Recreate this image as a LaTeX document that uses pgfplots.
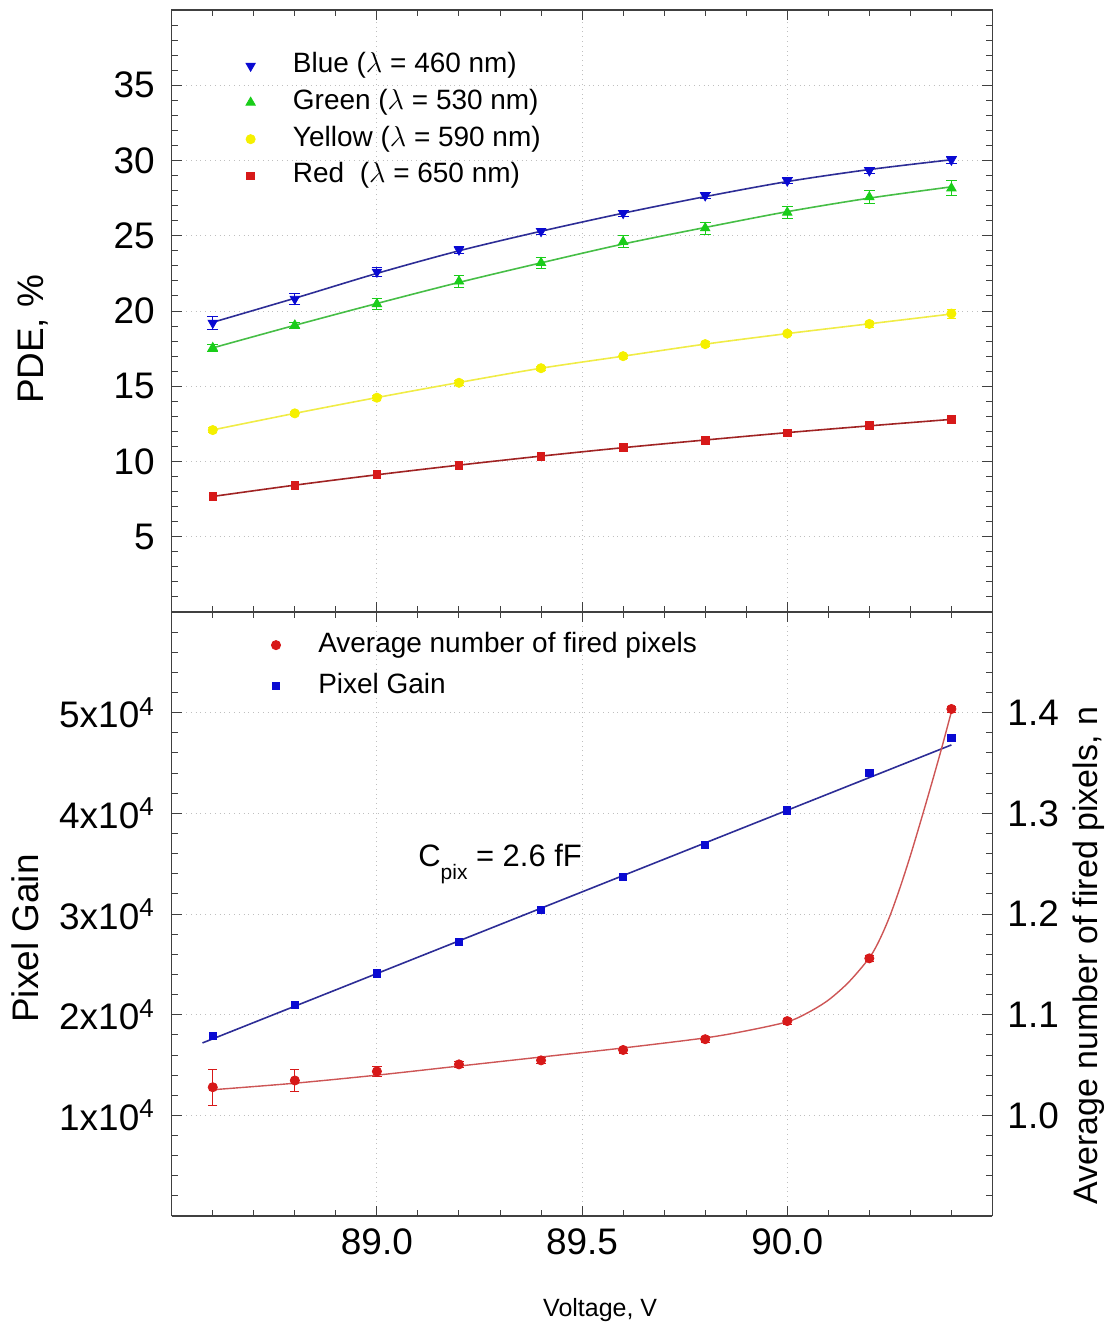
\documentclass[border=0pt]{standalone}
\usepackage{pgfplots}
\pgfplotsset{compat=1.18}
\usepackage{fontspec}
\setmainfont{Liberation Sans}
\definecolor{mblue}{RGB}{10,10,210}
\definecolor{lblue}{RGB}{45,45,150}
\definecolor{mgreen}{RGB}{25,205,25}
\definecolor{lgreen}{RGB}{70,190,70}
\definecolor{myellow}{RGB}{245,240,0}
\definecolor{lyellow}{RGB}{240,236,70}
\definecolor{mred}{RGB}{215,25,25}
\definecolor{lred}{RGB}{160,35,35}
\definecolor{cred}{RGB}{205,85,85}
\pgfplotsset{
 base/.style={
  scale only axis, width=411pt,
  xmin=88.5, xmax=90.5,
  axis line style={black!75, line width=0.7pt},
  tick style={black!75, line width=0.5pt},
  major tick length=5pt, minor tick length=3pt,
  tick align=inside,
  /pgf/number format/assume math mode=true,
  tick label style={font=\fontsize{18.5}{20}\selectfont},
  label style={font=\fontsize{18.5}{20}\selectfont},
  grid style={dotted, gray!50, line width=0.5pt},
  xtick={89,89.5,90},
  minor xtick={88.5,88.6,88.7,88.8,88.9,89.0,89.1,89.2,89.3,89.4,89.5,89.6,89.7,89.8,89.9,90.0,90.1,90.2,90.3,90.4,90.5},
  legend cell align=left,
  legend image code/.code={\path (0pt,0pt) (25pt,0pt); \draw[##1] plot coordinates {(5pt,0pt)};},
  legend style={draw=none, fill=none, inner sep=0pt, outer sep=0pt,
    font=\fontsize{14}{16}\selectfont,
    nodes={inner sep=1pt, text height=10pt, text depth=3pt}},
  error bars/error bar style={line width=0.5pt},
 },
}
\begin{document}
\begin{tikzpicture}
% ---------------- top axis ----------------
\begin{axis}[base, name=top, at={(0,0)}, anchor=south west, height=301.5pt,
  ymin=0, ymax=40, ytick={5,10,15,20,25,30,35}, minor ytick={0,1,...,40},
  xticklabels={},
  xmajorgrids, ymajorgrids,
  ylabel={PDE, \%},
  ylabel style={at={(axis description cs:-0.1691,0.453)}, anchor=center},
  yticklabel style={xshift=-5pt},
  legend style={at={(axis description cs:0.0835,0.932)}, anchor=north west, row sep=3.35pt},
]
\addplot[only marks, mark=triangle*, mark size=2.7pt, mark options={rotate=180, fill=mblue, draw=mblue}, mblue,
  error bars/.cd, y dir=both, y explicit, error bar style={mblue}]
 coordinates {(88.6,19.21) +- (0,0.46) (88.8,20.80) +- (0,0.35) (89.0,22.60) +- (0,0.3) (89.2,24.07) +- (0,0.25)
 (89.4,25.30) +- (0,0.2) (89.6,26.50) +- (0,0.2) (89.8,27.67) +- (0,0.2) (90.0,28.65) +- (0,0.2)
 (90.2,29.33) +- (0,0.2) (90.4,30.04) +- (0,0.2)};
\addlegendentry{Blue ($\lambda$ = 460 nm)}
\addplot[only marks, mark=triangle*, mark size=2.7pt, mark options={fill=mgreen, draw=mgreen}, mgreen,
  error bars/.cd, y dir=both, y explicit, error bar style={mgreen}]
 coordinates {(88.6,17.55) +- (0,0.25) (88.8,19.05) +- (0,0.2) (89.0,20.47) +- (0,0.35) (89.2,21.97) +- (0,0.4)
 (89.4,23.20) +- (0,0.35) (89.6,24.60) +- (0,0.4) (89.8,25.51) +- (0,0.4) (90.0,26.55) +- (0,0.4)
 (90.2,27.57) +- (0,0.45) (90.4,28.16) +- (0,0.5)};
\addlegendentry{Green ($\lambda$ = 530 nm)}
\addplot[only marks, mark=*, mark size=2.3pt, mark options={fill=myellow, draw=myellow}, myellow,
  error bars/.cd, y dir=both, y explicit, error bar style={myellow}]
 coordinates {(88.6,12.09) +- (0,0.15) (88.8,13.20) +- (0,0.15) (89.0,14.24) +- (0,0.15) (89.2,15.23) +- (0,0.15)
 (89.4,16.20) +- (0,0.15) (89.6,17.00) +- (0,0.15) (89.8,17.80) +- (0,0.15) (90.0,18.50) +- (0,0.15)
 (90.2,19.14) +- (0,0.2) (90.4,19.83) +- (0,0.3)};
\addlegendentry{Yellow ($\lambda$ = 590 nm)}
\addplot[only marks, mark=square*, mark size=1.9pt, mark options={fill=mred, draw=mred}, mred,
  error bars/.cd, y dir=both, y explicit, error bar style={mred}]
 coordinates {(88.6,7.67) +- (0,0.1) (88.8,8.42) +- (0,0.1) (89.0,9.15) +- (0,0.1) (89.2,9.75) +- (0,0.1)
 (89.4,10.35) +- (0,0.1) (89.6,10.95) +- (0,0.1) (89.8,11.40) +- (0,0.1) (90.0,11.90) +- (0,0.1)
 (90.2,12.40) +- (0,0.1) (90.4,12.80) +- (0,0.1)};
\addlegendentry{Red\ \ ($\lambda$ = 650 nm)}
% fit lines
\addplot[lblue, line width=0.8pt, smooth, forget plot] coordinates {(88.6,19.25) (88.8,20.85) (89.0,22.5) (89.2,24.0) (89.4,25.3) (89.6,26.5) (89.8,27.6) (90.0,28.6) (90.2,29.4) (90.4,30.05)};
\addplot[lgreen, line width=0.8pt, smooth, forget plot] coordinates {(88.6,17.55) (88.8,19.05) (89.0,20.5) (89.2,21.9) (89.4,23.2) (89.6,24.45) (89.8,25.55) (90.0,26.6) (90.2,27.5) (90.4,28.25)};
\addplot[lyellow, line width=0.8pt, smooth, forget plot] coordinates {(88.6,12.1) (88.8,13.2) (89.0,14.25) (89.2,15.25) (89.4,16.2) (89.6,17.0) (89.8,17.8) (90.0,18.5) (90.2,19.15) (90.4,19.8)};
\addplot[lred, line width=0.8pt, smooth, forget plot] coordinates {(88.6,7.68) (88.8,8.43) (89.0,9.12) (89.2,9.76) (89.4,10.36) (89.6,10.92) (89.8,11.43) (90.0,11.92) (90.2,12.37) (90.4,12.8)};
\end{axis}
% ---------------- bottom axis (left) ----------------
\begin{axis}[base, name=bot, at={(top.south west)}, anchor=north west, height=302.5pt,
  axis y line*=left,
  ymin=0, ymax=60000, ytick={10000,20000,30000,40000,50000},
  yticklabels={1x10\textsuperscript{4},2x10\textsuperscript{4},3x10\textsuperscript{4},4x10\textsuperscript{4},5x10\textsuperscript{4}},
  minor ytick={0,2000,...,60000}, scaled y ticks=false,
  xticklabel style={yshift=-3pt, /pgf/number format/.cd, fixed, fixed zerofill, precision=1},
  yticklabel style={xshift=-5pt},
  xmajorgrids, ymajorgrids,
  ylabel={Pixel Gain},
  ylabel style={at={(axis description cs:-0.1788,0.4595)}, anchor=center},
  xlabel={Voltage, V},
  xlabel style={at={(axis description cs:0.522,-0.155)}, anchor=center, font=\fontsize{12.5}{14}\selectfont},
]
\addplot[only marks, mark=square*, mark size=1.8pt, mark options={fill=mblue, draw=mblue}, mblue]
 coordinates {(88.6,17890) (88.8,21000) (89.0,24100) (89.2,27200) (89.4,30400) (89.6,33700) (89.8,36860) (90.0,40300) (90.2,44000) (90.4,47500)};
\addplot[lblue, line width=0.8pt] coordinates {(88.575,17200) (90.4,46800)};
\node[anchor=base west, font=\fontsize{15.5}{17}\selectfont, inner sep=0pt] at (axis cs:89.1,34700) {C\raisebox{-0.75ex}{\fontsize{10.5}{12}\selectfont pix} = 2.6 fF};
\end{axis}
% ---------------- bottom axis (right) ----------------
\begin{axis}[base, at={(top.south west)}, anchor=north west, height=302.5pt,
  axis y line*=right, axis x line=none,
  ymin=0.9, ymax=1.5, ytick={1.0,1.1,1.2,1.3,1.4},
  minor ytick={0.9,0.92,...,1.5},
  yticklabel style={xshift=4pt, /pgf/number format/.cd, fixed, fixed zerofill, precision=1},
  ylabel={Average number of fired pixels, n},
  ylabel style={at={(axis description cs:1.1168,0.431)}, anchor=center, font=\fontsize{17}{19}\selectfont},
  legend style={at={(axis description cs:0.1144,0.970)}, anchor=north west, row sep=5.5pt},
]
\addplot[only marks, mark=*, mark size=2.3pt, mark options={fill=mred, draw=mred}, mred,
  error bars/.cd, y dir=both, y explicit, error bar style={mred}]
 coordinates {(88.6,1.028) +- (0,0.018) (88.8,1.0347) +- (0,0.011) (89.0,1.0437) +- (0,0.005) (89.2,1.0507) +- (0,0.003)
 (89.4,1.0547) +- (0,0.003) (89.6,1.065) +- (0,0.003) (89.8,1.0757) +- (0,0.003) (90.0,1.0937) +- (0,0.003)
 (90.2,1.156) +- (0,0.003) (90.4,1.4037) +- (0,0.003)};
\addlegendentry{Average number of fired pixels}
\addlegendimage{only marks, mark=square*, mark size=1.8pt, mark options={fill=mblue, draw=mblue}, mblue}
\addlegendentry{Pixel Gain}
\addplot[cred, line width=0.7pt, smooth, forget plot] coordinates {(88.6,1.0255) (88.8,1.032) (89.0,1.040) (89.2,1.049) (89.4,1.058) (89.6,1.067) (89.8,1.077) (89.9,1.084) (90.0,1.093) (90.05,1.102) (90.1,1.1145) (90.15,1.1325) (90.2,1.1565) (90.225,1.1745) (90.25,1.198) (90.275,1.2265) (90.3,1.258) (90.325,1.292) (90.35,1.327) (90.375,1.363) (90.4,1.401)};
\end{axis}
\path (top.north west) ++(-86pt,5pt) rectangle ++(556.5pt,-664pt);
\end{tikzpicture}
\end{document}
